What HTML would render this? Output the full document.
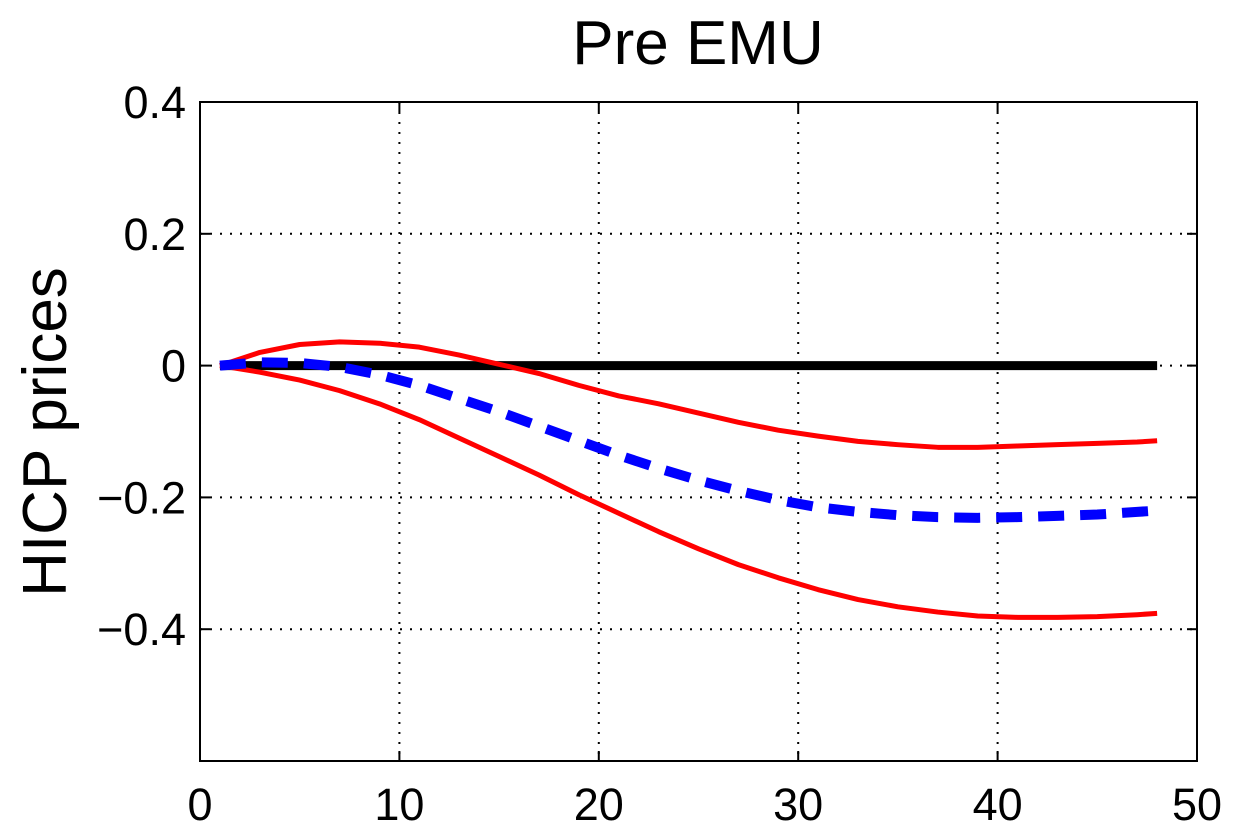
<!DOCTYPE html>
<html><head><meta charset="utf-8"><style>
body{margin:0;background:#fff;width:1242px;height:828px;overflow:hidden}
svg text{font-family:"Liberation Sans",sans-serif;fill:#000}
</style></head><body>
<svg id="chart" width="1242" height="828"></svg>
<script>
const xs=[1,3,5,7,9,11,13,15,17,19,21,23,25,27,29,31,33,35,37,39,41,43,45,47,48];
const upperBand=[0,0.02,0.032,0.036,0.034,0.028,0.016,0.002,-0.012,-0.03,-0.046,-0.058,-0.072,-0.086,-0.098,-0.107,-0.115,-0.12,-0.124,-0.124,-0.122,-0.12,-0.118,-0.116,-0.114];
const lowerBand=[0,-0.01,-0.022,-0.038,-0.058,-0.082,-0.11,-0.138,-0.166,-0.196,-0.224,-0.252,-0.278,-0.302,-0.322,-0.34,-0.355,-0.366,-0.374,-0.38,-0.382,-0.382,-0.381,-0.378,-0.376];
const median=[0,0.005,0.004,-0.002,-0.014,-0.03,-0.05,-0.07,-0.092,-0.114,-0.136,-0.156,-0.174,-0.19,-0.204,-0.215,-0.222,-0.227,-0.23,-0.231,-0.23,-0.228,-0.226,-0.222,-0.22];
const xTicks=[0,10,20,30,40,50];
const yTicks=[0.4,0.2,0,-0.2,-0.4];
const yTickLabels=["0.4","0.2","0","\u22120.2","\u22120.4"];

const L=200,R=1197,T=102,B=761;
const sx=v=>L+(v-0)/(50-0)*(R-L);
const sy=v=>T+(0.4-v)/(0.4+0.6)*(B-T);
const svg=document.getElementById('chart');
const NS='http://www.w3.org/2000/svg';
function mk(tag,attrs,parent){const e=document.createElementNS(NS,tag);for(const k in attrs)e.setAttribute(k,attrs[k]);(parent||svg).appendChild(e);return e;}

xTicks.slice(1,-1).forEach(t=>{
  const g=mk('line',{x1:sx(t),x2:sx(t),y1:T,y2:B,stroke:'#000','stroke-width':2,'stroke-dasharray':'2,8'});
  
  
});
yTicks.slice(1).forEach(t=>{
  const g=mk('line',{x1:L,x2:R,y1:sy(t),y2:sy(t),stroke:'#000','stroke-width':2,'stroke-dasharray':'2,8'});
  
  
});
xTicks.forEach(t=>{
  mk('line',{x1:sx(t),x2:sx(t),y1:B,y2:B-10,stroke:'#000','stroke-width':2});
  mk('line',{x1:sx(t),x2:sx(t),y1:T,y2:T+10,stroke:'#000','stroke-width':2});
  const tx=mk('text',{x:sx(t),y:820,'text-anchor':'middle','font-size':45});
  tx.textContent=t;
  
  
});
yTicks.forEach((t,i)=>{
  mk('line',{x1:L,x2:L+10,y1:sy(t),y2:sy(t),stroke:'#000','stroke-width':2});
  mk('line',{x1:R,x2:R-10,y1:sy(t),y2:sy(t),stroke:'#000','stroke-width':2});
  const tx=mk('text',{x:186,y:sy(t)+16,'text-anchor':'end','font-size':45});
  tx.textContent=yTickLabels[i];
  
  
});
const pts=a=>a.map((v,i)=>sx(xs[i])+','+sy(v)).join(' ');
const zero=mk('line',{x1:sx(1),x2:sx(48),y1:sy(0),y2:sy(0),stroke:'#000','stroke-width':9});


const up=mk('polyline',{points:pts(upperBand),fill:'none',stroke:'#f00','stroke-width':5,'stroke-linejoin':'round'});


const lo=mk('polyline',{points:pts(lowerBand),fill:'none',stroke:'#f00','stroke-width':5,'stroke-linejoin':'round'});


const md=mk('polyline',{points:pts(median),fill:'none',stroke:'#00f','stroke-width':10,'stroke-dasharray':'26,16'});


const box=mk('rect',{x:L,y:T,width:R-L,height:B-T,fill:'none',stroke:'#000','stroke-width':2});


const ti=mk('text',{x:698,y:64,'text-anchor':'middle','font-size':62});
ti.textContent='Pre EMU';


const yl=mk('text',{x:0,y:0,'text-anchor':'middle','font-size':62,transform:'translate(66,432) rotate(-90)'});
yl.textContent='HICP prices';


</script>
</body></html>
